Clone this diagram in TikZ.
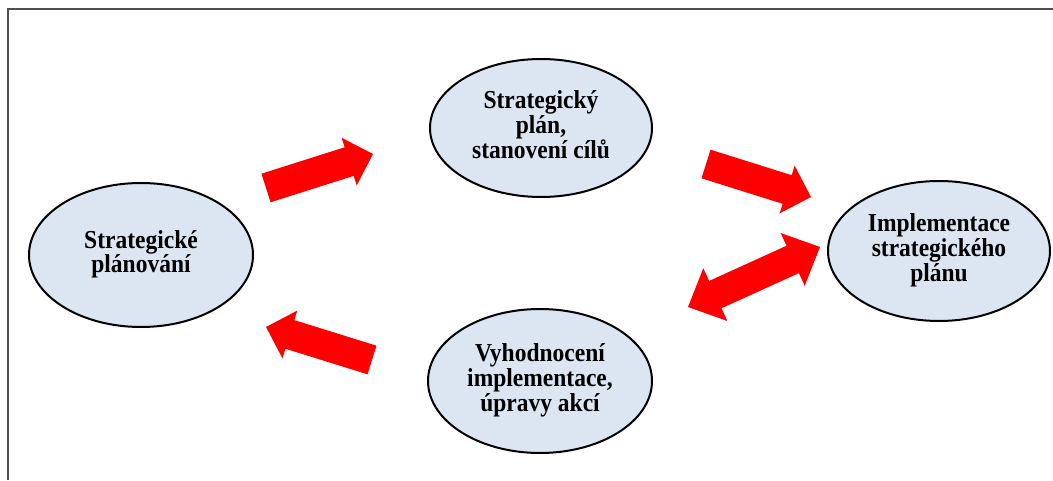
\documentclass[tikz,border=0pt]{standalone}
\usepackage{fontspec}
\usepackage{graphicx}
\setmainfont{Liberation Serif}
\usetikzlibrary{shapes.geometric,calc}
\definecolor{arrowred}{HTML}{FF0000}
\definecolor{ellfill}{HTML}{DCE6F2}
\definecolor{framegray}{HTML}{505050}
\newcommand{\lbl}[1]{\scalebox{1}[1.1]{\begin{tabular}{@{}c@{}}#1\end{tabular}}}
\tikzset{
  phase/.style={ellipse, draw=black, line width=2pt, fill=ellfill, inner sep=0pt,
    align=center, font=\bfseries\fontsize{23.5}{20.9}\selectfont},
  blockfill/.style={fill=arrowred, draw=none}
}
% single block arrow: tail, tip
\newcommand{\blockarr}[2]{%
  \path ($(#2)!25pt!(#1)$) coordinate (hb);
  \fill[blockfill] ($(#1)!15pt!90:(#2)$) -- ($(hb)!15pt!90:(#2)$) -- ($(hb)!25pt!90:(#2)$)
    -- (#2) -- ($(hb)!25pt!-90:(#2)$) -- ($(hb)!15pt!-90:(#2)$) -- ($(#1)!15pt!-90:(#2)$) -- cycle;}
% double block arrow: tip A, tip B
\newcommand{\doublearr}[2]{%
  \path ($(#2)!30pt!(#1)$) coordinate (hb);
  \path ($(#1)!30pt!(#2)$) coordinate (ha);
  \fill[blockfill] (#1) -- ($(ha)!29pt!-90:(#2)$) -- ($(ha)!15pt!-90:(#2)$) -- ($(hb)!15pt!90:(#1)$)
    -- ($(hb)!29pt!90:(#1)$) -- (#2) -- ($(hb)!29pt!-90:(#1)$) -- ($(hb)!15pt!-90:(#1)$)
    -- ($(ha)!15pt!90:(#2)$) -- ($(ha)!29pt!90:(#2)$) -- cycle;}
\begin{document}
\begin{tikzpicture}[x=1pt,y=1pt]
\useasboundingbox (0,0) rectangle (1053,480);
% frame (top and left edges visible)
\coordinate (fbl) at (8,0);
\coordinate (ftl) at (8,471);
\coordinate (ftr) at (1053,471);
\draw[framegray, line width=2pt] (fbl) -- (ftl) -- (ftr);
% ellipses
\node[phase, minimum width=224pt, minimum height=144pt] (plan) at (141,225) {\lbl{Strategické\\plánování}};
\node[phase, minimum width=222pt, minimum height=138pt] (goal) at (541,352) {\lbl{Strategický\\plán,\\stanovení cílů}};
\node[phase, minimum width=224pt, minimum height=144pt] (eval) at (540,99) {\lbl{Vyhodnocení\\implementace,\\úpravy akcí}};
\node[phase, minimum width=222pt, minimum height=140pt] (impl) at (939,229) {\lbl{Implementace\\strategického\\plánu}};
% arrow end points
\coordinate (a1t) at (266,292); \coordinate (a1h) at (373,326);
\coordinate (a2t) at (706,316); \coordinate (a2h) at (811,283);
\coordinate (a3a) at (688,173); \coordinate (a3b) at (820,233);
\coordinate (a4t) at (372,120); \coordinate (a4h) at (266,153);
\blockarr{a1t}{a1h}
\blockarr{a2t}{a2h}
\doublearr{a3a}{a3b}
\blockarr{a4t}{a4h}
\end{tikzpicture}
\end{document}
